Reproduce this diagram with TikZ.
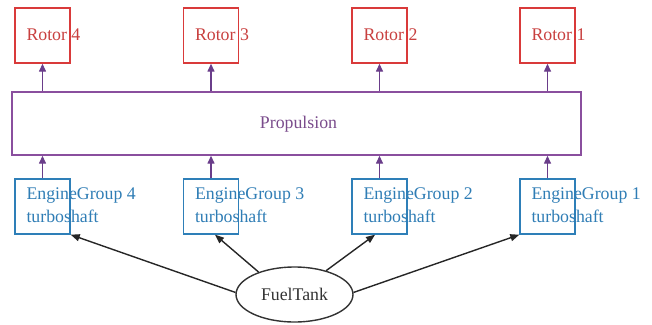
\documentclass[tikz,border=0pt]{standalone}
\usepackage{fontspec}
\setmainfont{Liberation Serif}
\usetikzlibrary{arrows.meta,shapes.geometric,calc}
\definecolor{rotred}{HTML}{D93A3A}
\definecolor{rottext}{HTML}{C8403F}
\definecolor{propline}{HTML}{8A4F9E}
\definecolor{proptext}{HTML}{7A4C8C}
\definecolor{engblue}{HTML}{2E7FB8}
\definecolor{engtext}{HTML}{2F7DB5}
\definecolor{arrpurple}{HTML}{6A3D8A}
\definecolor{darkgray}{HTML}{333333}
\tikzset{
  rotorbox/.style={draw=rotred, line width=1.4pt, minimum width=55pt, minimum height=55pt, inner sep=0pt},
  engbox/.style={draw=engblue, line width=1.4pt, minimum width=55pt, minimum height=55pt, inner sep=0pt},
  propbox/.style={draw=propline, line width=1.4pt, minimum width=569pt, minimum height=63pt, inner sep=0pt},
  tankshape/.style={draw=darkgray, ellipse, line width=1.4pt, minimum width=117pt, minimum height=55pt, inner sep=0pt, text=darkgray},
  rotlabel/.style={anchor=north west, inner sep=0pt, text=rottext},
  englabel/.style={anchor=north west, inner sep=0pt, text=engtext, align=left},
  proparrow/.style={draw=arrpurple, line width=1.4pt, -{Triangle[length=8pt,width=7pt]}},
  fuelarrow/.style={draw=black!85, line width=1.4pt, -{Triangle[length=9pt,width=7pt]}}
}
\begin{document}
\begin{tikzpicture}[x=1pt,y=-1pt,font=\fontsize{17.8}{23}\selectfont]
\useasboundingbox (0,0) rectangle (652,324);
% rotors
\node[rotorbox] (r4) at (42.5,35.5) {};
\node[rotorbox] (r3) at (211,35.5) {};
\node[rotorbox] (r2) at (379.5,35.5) {};
\node[rotorbox] (r1) at (547.5,35.5) {};
\node[rotlabel] (r4t) at ($(r4.north west)+(12,21)$) {Rotor 4};
\node[rotlabel] (r3t) at ($(r3.north west)+(12,21)$) {Rotor 3};
\node[rotlabel] (r2t) at ($(r2.north west)+(12,21)$) {Rotor 2};
\node[rotlabel] (r1t) at ($(r1.north west)+(12,21)$) {Rotor 1};
% propulsion
\node[propbox] (prop) at (296.5,123.5) {};
\node[anchor=base, inner sep=0pt, text=proptext] (propt) at (298.5,128) {Propulsion};
% engines
\node[engbox] (e4) at (42.5,206.5) {};
\node[engbox] (e3) at (211,206.5) {};
\node[engbox] (e2) at (379.5,206.5) {};
\node[engbox] (e1) at (547.5,206.5) {};
\node[englabel] (e4t) at ($(e4.north west)+(12,9)$) {EngineGroup 4\\turboshaft};
\node[englabel] (e3t) at ($(e3.north west)+(12,9)$) {EngineGroup 3\\turboshaft};
\node[englabel] (e2t) at ($(e2.north west)+(12,9)$) {EngineGroup 2\\turboshaft};
\node[englabel] (e1t) at ($(e1.north west)+(12,9)$) {EngineGroup 1\\turboshaft};
% fuel tank
\node[tankshape] (ft) at (294.5,294.5) {FuelTank};
% propulsion to rotors
\foreach \r in {r1,r2,r3,r4}{
  \draw[proparrow] (\r.south |- prop.north) -- (\r.south);
}
% engines to propulsion
\foreach \e in {e1,e2,e3,e4}{
  \draw[proparrow] (\e.north) -- (\e.north |- prop.south);
}
% fuel
\draw[fuelarrow] (ft.178) -- (e4.south east);
\draw[fuelarrow] (ft.148) -- (e3.-82);
\draw[fuelarrow] (ft.37) -- (e2.-99);
\draw[fuelarrow] (ft.2) -- (e1.south west);
\end{tikzpicture}
\end{document}
